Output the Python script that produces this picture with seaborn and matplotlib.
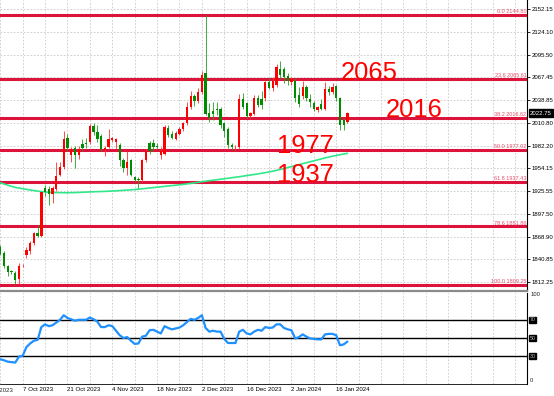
import matplotlib
matplotlib.use("Agg")
import matplotlib.pyplot as plt
import matplotlib.transforms as mtrans
import numpy as np
import pandas as pd
import seaborn as sns

# ---------------- data ----------------
opens = [1856, 1849, 1832, 1826, 1824, 1816, 1832, 1846, 1851, 1861,
         1873, 1870, 1929, 1928, 1922, 1928, 1946, 1955, 1992, 1970,
         1979, 1970, 1984, 1986, 1987, 2006, 1999, 1994, 1977, 1981,
         1989, 1987, 1983, 1964, 1954, 1964, 1943, 1941, 1939, 1964,
         1985, 1985, 1982, 1971, 1972, 2004, 1997, 1991, 1997, 2003,
         2010, 2030, 2044, 2038, 2049, 2072, 2023, 2025, 2028, 2028,
         2010, 2003, 1983, 1980, 1981, 2040, 2035, 2019, 2022, 2042,
         2040, 2041, 2061, 2054, 2057, 2078, 2077, 2069, 2061, 2063,
         2045, 2044, 2055, 2040, 2035, 2027, 2034, 2028, 2053, 2049,
         2056, 2041, 2014, 2012]
highs = [1859, 1851, 1834, 1828, 1826, 1836, 1835, 1856, 1863, 1875,
         1884, 1926, 1933, 1932, 1932, 1962, 1962, 2000, 1997, 1980,
         1982, 1982, 1990, 1992, 2009, 2010, 2008, 1997, 1982, 2003,
         1993, 1992, 1986, 1967, 1975, 1966, 1945, 1943, 1966, 1978,
         1988, 1990, 1986, 1980, 2008, 2008, 2000, 2001, 2005, 2012,
         2037, 2050, 2047, 2054, 2075, 2144.8, 2035, 2036, 2036, 2030,
         2012, 2005, 1986, 1983, 2046, 2048, 2037, 2024, 2045, 2045,
         2050, 2063, 2066, 2068, 2084, 2088, 2080, 2072, 2068, 2066,
         2055, 2062, 2057, 2046, 2038, 2032, 2040, 2061, 2056, 2060,
         2058, 2043, 2016, 2024]
lows = [1846, 1830, 1820, 1822, 1810, 1810, 1831, 1843, 1848, 1858,
        1868, 1868, 1919, 1908, 1911, 1926, 1944, 1953, 1975, 1962,
        1954, 1966, 1975, 1979, 1984, 1996, 1987, 1975, 1969, 1979,
        1987, 1978, 1957, 1950, 1946, 1944, 1937, 1928, 1937, 1962,
        1972, 1976, 1978, 1965, 1970, 1993, 1990, 1989, 1995, 2001,
        2008, 2028, 2032, 2035, 2046, 2020, 2012, 2014, 2020, 2004,
        1993, 1979, 1977, 1975, 1978, 2028, 2016, 2015, 2020, 2030,
        2028, 2038, 2052, 2050, 2055, 2065, 2060, 2058, 2058, 2036,
        2030, 2040, 2038, 2030, 2025, 2024, 2026, 2026, 2045, 2046,
        2038, 2002, 2002, 2010]
closes = [1848, 1832, 1825, 1825, 1815, 1833, 1833, 1853, 1861, 1873,
          1870, 1924, 1925, 1922, 1929, 1945, 1956, 1990, 1979, 1978,
          1970, 1978, 1979, 1984, 2006, 1999, 1991, 1978, 1979, 1991,
          1992, 1990, 1964, 1954, 1962, 1946, 1939, 1940, 1964, 1976,
          1976, 1980, 1980, 1976, 2005, 1996, 1992, 1998, 2003, 2010,
          2030, 2044, 2038, 2049, 2070, 2022, 2016, 2022, 2027, 2008,
          2001, 1983, 1981, 1981, 2040, 2030, 2019, 2023, 2042, 2033,
          2033, 2061, 2054, 2062, 2080, 2070, 2068, 2062, 2065, 2041,
          2034, 2055, 2041, 2036, 2028, 2030, 2028, 2053, 2049, 2055,
          2041, 2008, 2008, 2022.75]
ma_line = [1936, 1934.5, 1933, 1931.5, 1930.3, 1929.4, 1928.6, 1927.8, 1927, 1926.3,
           1925.6, 1925, 1924.5, 1924.2, 1924, 1923.8, 1923.7, 1923.6, 1923.6, 1923.7,
           1923.8, 1924, 1924.2, 1924.4, 1924.6, 1924.8, 1925, 1925.1, 1925.3, 1925.5,
           1925.8, 1926, 1926.3, 1926.6, 1926.9, 1927.2, 1927.6, 1928, 1928.5, 1929,
           1929.5, 1930, 1930.5, 1931, 1931.5, 1932, 1932.5, 1933, 1933.5, 1934,
           1934.6, 1935.2, 1935.9, 1936.6, 1937.3, 1938, 1938.6, 1939.2, 1939.8, 1940.4,
           1941, 1941.6, 1942.3, 1942.9, 1943.5, 1944.2, 1944.9, 1945.6, 1946.3, 1947,
           1947.8, 1948.6, 1949.5, 1950.4, 1951.4, 1952.5, 1953.7, 1955, 1956.2, 1957.4,
           1958.5, 1959.7, 1960.9, 1962.1, 1963.3, 1964.5, 1965.7, 1966.9, 1968, 1969,
           1970, 1970.9, 1971.8, 1972.6]
rsi = [26.7, 25.5, 24, 23.5, 23, 29.5, 30.5, 40, 44, 47,
       48, 62, 65, 63, 64, 67, 70, 75, 72, 70.5,
       69, 70, 70, 70, 72.5, 70.5, 68, 62, 62, 64,
       63, 58, 53, 50, 51, 47, 43.5, 44, 51.5, 52.5,
       58.5, 59, 57, 55, 63, 61, 59.5, 60.5, 61.5, 64,
       67.5, 71, 70, 72, 75, 61, 57, 58, 57, 57,
       49, 44.5, 44.5, 44.5, 57, 59, 55, 54, 57, 59,
       58, 62, 61, 61.5, 65, 65, 61, 59.5, 58.5, 49.5,
       51, 54, 51.5, 49.5, 49, 48.5, 48.5, 54, 54.5, 54.5,
       53, 42, 43, 46]

fib_pct = ["0.0", "23.6", "38.2", "50.0", "61.8", "78.6", "100.0"]
fib_lvl = [2144.80, 2065.61, 2016.62, 1977.02, 1937.43, 1881.86, 1809.25]
price_ticks = [2152.15, 2124.10, 2095.50, 2067.45, 2038.85, 2010.80, 1982.20,
               1954.15, 1925.55, 1897.50, 1868.90, 1840.85, 1812.25]
date_labels = ["23 Sep 2023", "7 Oct 2023", "21 Oct 2023", "4 Nov 2023", "18 Nov 2023",
               "2 Dec 2023", "16 Dec 2023", "2 Jan 2024", "16 Jan 2024"]
date_bars = [-6, 6, 18, 30, 42, 54, 66, 78, 90]
notes = ["2065", "2016", "1977", "1937"]
rsi_levels = [70, 50, 30]
last_price = 2022.75

df = pd.DataFrame({"bar": np.arange(len(opens)), "open": opens, "high": highs,
                   "low": lows, "close": closes, "ma": ma_line, "rsi": rsi})

# ---------------- style ----------------
sns.set_style("white")
plt.rcParams["font.family"] = ["Liberation Sans", "DejaVu Sans"]

W, H = 554, 396
fig = plt.figure(figsize=(W / 100, H / 100), dpi=100)
fig.patch.set_facecolor("white")
ax = fig.add_axes([0, 1 - 291 / H, 527 / W, 291 / H])
ai = fig.add_axes([0, 1 - 383.5 / H, 527 / W, (383.5 - 292.5) / H])

XMIN, XMAX = -0.08, 141.1
YMIN, YMAX = 1801.4, 2163.3
ax.set_xlim(XMIN, XMAX)
ax.set_ylim(YMIN, YMAX)
ai.set_xlim(XMIN, XMAX)
ai.set_ylim(0, 100)

grid_kw = dict(color="#c8c8c8", linestyle=(0, (2, 2)), linewidth=0.6)
grid_x = list(range(0, 142, 6))
ax.set_xticks(grid_x)
ax.set_yticks(price_ticks)
ax.grid(True, **grid_kw)
ax.set_axisbelow(True)
ax.tick_params(axis="x", length=0, labelbottom=False)
ax.yaxis.tick_right()
ax.set_yticklabels([f"{v:.2f}" for v in price_ticks])
ax.tick_params(axis="y", right=True, length=2, width=0.6, pad=1.5,
               labelsize=4.3, colors="black")

for s in ["top", "left"]:
    ax.spines[s].set_visible(False)
ax.spines["right"].set_color("black")
ax.spines["right"].set_linewidth(0.8)
ax.spines["bottom"].set_color("#8a8a8a")
ax.spines["bottom"].set_linewidth(1.6)

# ---------------- fib lines ----------------
blend_ax = mtrans.blended_transform_factory(ax.transAxes, ax.transData)
for pct, lv in zip(fib_pct, fib_lvl):
    ax.axhline(lv, color="#dc143c", lw=2.2, zorder=2)
    ax.text(0.999, lv + 2.0, f"{pct} {lv:.2f}", transform=blend_ax, ha="right",
            va="baseline", fontsize=4.0, color="#e4506c", zorder=5)

# ---------------- candles ----------------
up = df["close"] >= df["open"]
col = np.where(up, "#ff0000", "#008c00")
wick_col = np.where(up, "#ff3030", "#20a020")
ax.vlines(df["bar"], df["low"], df["high"], colors=wick_col, lw=0.6, zorder=3)
body_lo = np.minimum(df["open"], df["close"])
body_h = np.maximum(np.abs(df["close"] - df["open"]), 1.0)
ax.bar(df["bar"], body_h, bottom=body_lo, width=0.62, color=col, linewidth=0, zorder=4)

# moving average
sns.lineplot(data=df, x="bar", y="ma", ax=ax, color="#30e88a", lw=1.2, zorder=3)
ax.set_xlabel("")
ax.set_ylabel("")

# big annotations (positions converted from pixels)
def px_to_bar(px):
    return XMIN + px / 527 * (XMAX - XMIN)

def py_to_price(py):
    return YMAX - py / 291 * (YMAX - YMIN)

note_pos = [(341.0, 80.0), (386.0, 116.7), (277.2, 153.5), (277.2, 182.0)]
for txt, (px, py) in zip(notes, note_pos):
    ax.text(px_to_bar(px), py_to_price(py), txt, fontsize=18.4, color="#ff0000",
            ha="left", va="baseline", zorder=6)

# current price box
ax.text(1.006, last_price, f"{last_price:.2f}", transform=blend_ax, ha="left", va="center",
        fontsize=4.3, color="white", clip_on=False, zorder=7,
        bbox=dict(boxstyle="square,pad=0.25", facecolor="black", edgecolor="black"))

# ---------------- RSI panel ----------------
sns.lineplot(data=df, x="bar", y="rsi", ax=ai, color="#1e90ff", lw=1.6, zorder=3)
ai.set_xlabel("")
ai.set_ylabel("")
for lv in rsi_levels:
    ai.axhline(lv, color="black", lw=1.0, zorder=2)
blend_ai = mtrans.blended_transform_factory(ai.transAxes, ai.transData)
for lv in rsi_levels:
    ai.text(1.005, lv, str(lv), transform=blend_ai, ha="left", va="center", fontsize=3.8,
            color="#bbbbbb", clip_on=False,
            bbox=dict(boxstyle="square,pad=0.15", facecolor="black", edgecolor="black"))
ai.text(1.006, 97.5, "100", transform=blend_ai, ha="left", va="center", fontsize=4.2,
        clip_on=False)
ai.text(1.006, 3.5, "0", transform=blend_ai, ha="left", va="center", fontsize=4.2,
        clip_on=False)
ai.set_yticks([])

ai.set_xticks(grid_x)
ai.grid(True, axis="x", **grid_kw)
ai.set_axisbelow(True)
lab_map = dict(zip(date_bars, date_labels))
ai.set_xticklabels([lab_map.get(g, "") for g in grid_x])
for t in ai.get_xticklabels():
    t.set_ha("left")
ai.tick_params(axis="x", bottom=False, length=0, pad=2.5, labelsize=4.4, colors="black")
# partially visible first label
blend_x = mtrans.blended_transform_factory(ai.transData, ai.transAxes)
ai.text(date_bars[0], -0.045, date_labels[0], transform=blend_x, ha="left", va="top",
        fontsize=4.4, clip_on=False)

for s in ["top", "left"]:
    ai.spines[s].set_visible(False)
ai.spines["right"].set_color("black")
ai.spines["right"].set_linewidth(0.8)
ai.spines["bottom"].set_color("black")
ai.spines["bottom"].set_linewidth(0.6)

fig.savefig("out.png", dpi=100, facecolor="white")
